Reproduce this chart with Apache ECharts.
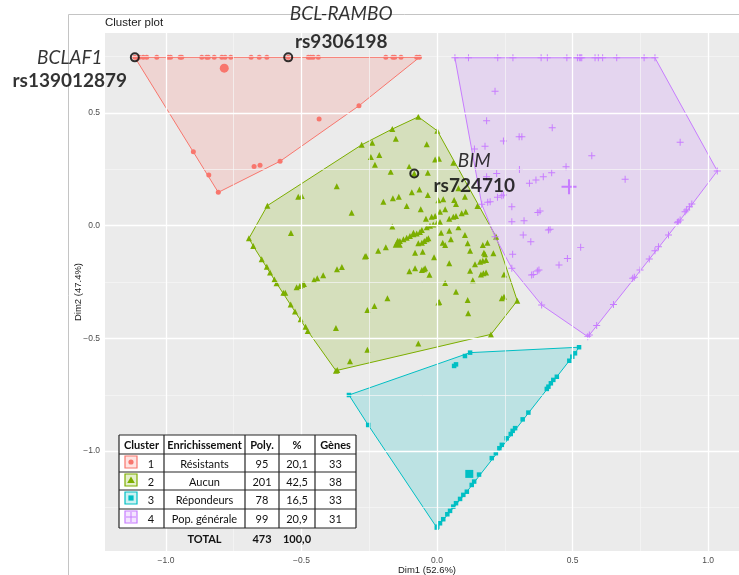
<!DOCTYPE html>
<html><head><meta charset="utf-8">
<script src="https://cdn.jsdelivr.net/npm/echarts@6/dist/echarts.min.js"></script>
<style>html,body{margin:0;padding:0;background:#fff}#c{width:739px;height:575px}</style>
</head><body><div id="c"></div>
<script>
// ---------- DATA ----------
const xTicks = [-1, -0.5, 0, 0.5, 1];
const yTicks = [-1, -0.5, 0, 0.5];
const xMinor = [-0.75, -0.25, 0.25, 0.75];
const yMinor = [-1.25, -0.75, -0.25, 0.25, 0.75];

const clusterIds = ['1', '2', '3', '4'];
const enrichment = ['Résistants', 'Aucun', 'Répondeurs', 'Pop. générale'];
const polyCount = ['95', '201', '78', '99'];
const polyPct = ['20,1', '42,5', '16,5', '20,9'];
const geneCount = ['33', '38', '33', '31'];
const tableHeader = ['Cluster', 'Enrichissement', 'Poly.', '%', 'Gènes'];
const totalRow = ['TOTAL', '473', '100,0'];

const resistants = [
[-1.115,0.747],[-1.099,0.747],[-1.084,0.747],[-1.071,0.747],[-1.034,0.747],[-0.992,0.747],[-0.983,0.747],[-0.948,0.747],[-0.942,0.747],[-0.868,0.747],
[-0.850,0.747],[-0.844,0.747],[-0.822,0.747],[-0.794,0.747],[-0.782,0.747],[-0.761,0.747],[-0.686,0.747],[-0.656,0.747],[-0.628,0.747],[-0.549,0.747],
[-0.475,0.747],[-0.466,0.747],[-0.457,0.747],[-0.438,0.747],[-0.189,0.747],[-0.163,0.747],[-0.156,0.747],[-0.133,0.747],[-0.075,0.747],[-0.065,0.747],
[-0.288,0.532],[-0.435,0.473],[-0.579,0.286],[-0.653,0.268],[-0.675,0.263],[-0.899,0.328],[-0.842,0.225],[-0.807,0.148]
];
const resistantsCenter = [-0.785, 0.699];

const aucun = [
[-0.165,0.429],[-0.278,0.359],[-0.626,0.089],[-0.694,-0.056],[-0.373,-0.643],[-0.239,0.368],[-0.152,0.386],[-0.244,0.305],[-0.213,0.314],[-0.229,0.271],
[-0.171,0.239],[-0.370,0.175],[-0.512,0.129],[-0.499,0.132],[-0.198,0.106],[-0.163,0.122],[-0.141,0.129],[-0.315,0.058],[-0.165,-0.003],[-0.539,-0.032],
[-0.189,-0.096],[-0.217,-0.111],[-0.266,-0.137],[-0.262,-0.134],[-0.678,-0.090],[-0.647,-0.149],[-0.628,-0.182],[-0.616,-0.207],[-0.600,-0.238],[-0.592,-0.255],
[-0.567,-0.297],[-0.560,-0.297],[-0.540,-0.350],[-0.524,-0.381],[-0.503,-0.415],[-0.485,-0.448],[-0.477,-0.467],[-0.368,-0.640],[-0.518,-0.273],[-0.506,-0.267],
[-0.497,-0.262],[-0.491,-0.259],[-0.454,-0.241],[-0.442,-0.233],[-0.420,-0.220],[-0.369,-0.193],[-0.351,-0.183],[-0.183,-0.322],[-0.231,-0.356],[-0.257,-0.374],
[-0.373,-0.454],[-0.257,-0.550],[-0.321,-0.601],[-0.069,0.483],[0.001,0.421],[0.296,-0.333],[0.199,-0.482],[-0.038,0.361],[-0.007,0.294],[0.007,0.297],
[0.060,0.279],[-0.103,0.262],[-0.034,0.235],[-0.093,0.149],[-0.065,0.161],[-0.034,0.136],[0.005,0.113],[0.023,0.118],[0.063,0.114],[0.070,0.096],
[0.079,0.166],[0.103,0.129],[0.149,0.087],[-0.112,0.087],[-0.060,0.073],[0.011,0.062],[0.030,0.073],[0.070,0.043],[0.091,0.055],[0.106,0.062],
[-0.041,0.031],[-0.020,0.040],[-0.007,0.043],[0.045,0.031],[0.060,0.040],[-0.087,-0.031],[-0.056,-0.019],[-0.038,-0.007],[-0.026,0.000],[-0.014,0.006],
[-0.001,0.011],[0.011,0.016],[0.015,-0.031],[0.045,-0.022],[0.079,-0.007],[0.103,-0.041],[-0.149,-0.078],[-0.137,-0.068],[-0.124,-0.060],[-0.112,-0.053],
[-0.100,-0.046],[-0.087,-0.038],[-0.075,-0.034],[-0.063,-0.028],[-0.069,-0.078],[-0.056,-0.075],[-0.047,-0.068],[-0.038,-0.060],[-0.032,-0.056],[0.021,-0.075],
[0.030,-0.086],[0.051,-0.060],[0.113,-0.078],[-0.081,-0.120],[-0.053,-0.115],[-0.011,-0.140],[0.045,-0.167],[0.122,-0.111],[0.169,-0.086],[0.186,-0.075],
[0.173,-0.120],[0.177,-0.127],[0.208,-0.122],[0.218,-0.049],[0.159,-0.160],[0.169,-0.155],[0.181,-0.152],[0.140,-0.171],[-0.102,-0.202],[-0.081,-0.189],
[-0.056,-0.196],[-0.048,-0.193],[-0.044,-0.189],[-0.028,-0.217],[0.122,-0.200],[0.162,-0.216],[0.171,-0.211],[0.181,-0.207],[0.247,-0.216],[0.030,-0.254],
[0.132,-0.242],[0.070,-0.293],[0.239,-0.322],[0.247,-0.315],[0.005,-0.341],[0.008,-0.338],[0.113,-0.329],[0.115,-0.388],[-0.069,-0.522],[-0.084,0.232]
];
const aucunCenter = [-0.145, -0.076];

const repondeurs = [
[0.524,-0.539],[0.122,-0.563],[0.103,-0.578],[-0.325,-0.751],[-0.254,-0.884],[-0.001,-1.339],[0.063,-0.622],[0.070,-0.615],[0.155,-1.104],
[0.509,-0.566],[0.499,-0.581],[0.488,-0.599],[0.442,-0.670],[0.429,-0.684],[0.420,-0.699],[0.411,-0.714],[0.405,-0.724],[0.337,-0.829],[0.316,-0.859],
[0.288,-0.898],[0.279,-0.910],[0.272,-0.924],[0.257,-0.943],[0.239,-0.972],[0.230,-0.987],[0.217,-1.009],[0.202,-1.031],[0.137,-1.135],[0.128,-1.150],
[0.110,-1.180],[0.097,-1.194],[0.085,-1.212],[0.070,-1.231],[0.060,-1.246],[0.048,-1.265],[0.038,-1.280],[0.023,-1.302],[0.011,-1.320],[0.001,-1.335]
];
const repondeursCenter = [0.119, -1.101];

const popGenerale = [
[0.066,0.745],[0.116,0.745],[0.224,0.745],[0.280,0.745],[0.384,0.745],[0.407,0.745],[0.479,0.745],[0.518,0.745],[0.525,0.745],[0.530,0.745],
[0.534,0.745],[0.583,0.745],[0.595,0.745],[0.611,0.745],[0.663,0.745],[0.764,0.745],[0.804,0.745],
[0.214,0.597],[0.183,0.466],[0.425,0.435],[0.245,0.376],[0.303,0.395],[0.313,0.395],[0.138,0.340],[0.177,0.353],[0.571,0.310],[0.476,0.262],
[0.304,0.250],[0.897,0.370],[0.220,0.232],[0.183,0.217],[0.423,0.235],[0.392,0.217],[0.365,0.203],[0.341,0.188],[0.694,0.206],[0.245,0.136],
[0.239,0.133],[0.223,0.126],[0.196,0.106],[0.187,0.104],[0.165,0.095],[0.276,0.084],[0.380,0.065],[0.372,0.059],[0.276,0.018],[0.321,0.022],
[0.411,-0.019],[0.417,-0.016],[0.214,-0.049],[0.318,-0.041],[0.346,-0.071],[0.279,-0.127],[0.530,-0.096],[0.481,-0.145],[0.450,-0.174],[0.376,-0.196],
[0.370,-0.201],[0.355,-0.216],[0.349,-0.219],[0.276,-0.189],[0.386,-0.352],[0.556,-0.492],
[1.034,0.243],[0.940,0.096],[0.931,0.084],[0.921,0.070],[0.915,0.062],[0.897,0.025],[0.890,0.018],[0.887,0.013],[0.854,-0.041],[0.817,-0.093],
[0.804,-0.111],[0.783,-0.148],[0.749,-0.196],[0.728,-0.229],[0.722,-0.233],[0.651,-0.349],[0.589,-0.443],[0.562,-0.485]
];
const popGeneraleCenter = [0.487, 0.173];

const snpGenes = ['BCLAF1', 'BCL-RAMBO', 'BIM'];
const snpIds = ['rs139012879', 'rs9306198', 'rs724710'];
const snpDim1 = [-1.115, -0.549, -0.084];
const snpDim2 = [0.747, 0.747, 0.232];

// ---------- STYLE ----------
const colors = ['#F8766D', '#7CAE00', '#00BFC4', '#C77CFF'];
const fills = ['rgba(248,118,109,0.2)', 'rgba(124,174,0,0.2)', 'rgba(0,191,196,0.2)', 'rgba(199,124,255,0.2)'];
const plusPath = 'path://M4.3,0H5.7V4.3H10V5.7H5.7V10H4.3V5.7H0V4.3H4.3Z';
const FONT = 'Liberation Sans';
const TFONT = 'Lato';

function hull(points) {
  const p = points.slice().sort((a, b) => a[0] - b[0] || a[1] - b[1]);
  const cross = (o, a, b) => (a[0] - o[0]) * (b[1] - o[1]) - (a[1] - o[1]) * (b[0] - o[0]);
  const lower = [], upper = [];
  for (const pt of p) { while (lower.length >= 2 && cross(lower[lower.length - 2], lower[lower.length - 1], pt) <= 0) lower.pop(); lower.push(pt); }
  for (let i = p.length - 1; i >= 0; i--) { const pt = p[i]; while (upper.length >= 2 && cross(upper[upper.length - 2], upper[upper.length - 1], pt) <= 0) upper.pop(); upper.push(pt); }
  upper.pop(); lower.pop();
  return lower.concat(upper);
}

const clusters = [
  { pts: resistants, center: resistantsCenter, symbol: 'circle', size: 5, csize: 9 },
  { pts: aucun, center: aucunCenter, symbol: 'triangle', size: 6, csize: 10 },
  { pts: repondeurs, center: repondeursCenter, symbol: 'rect', size: 4.5, csize: 8 },
  { pts: popGenerale, center: popGeneraleCenter, symbol: plusPath, size: 7, csize: 15 }
];

const fmt = v => (v < 0 ? '\u2212' : '') + Math.abs(v).toFixed(1);

const series = [];
// panel grid lines, placed on the axes' own scales
const gridLineSeries = (vals, dim, color, width) => ({
  type: 'line', z: 1, silent: true, animation: false, showSymbol: false, symbol: 'none',
  data: [], lineStyle: { opacity: 0 },
  markLine: {
    silent: true, symbol: ['none', 'none'], label: { show: false }, animation: false,
    lineStyle: { color: color, width: width, type: 'solid', opacity: 1 },
    emphasis: { disabled: true },
    data: vals.map(v => (dim === 'x' ? { xAxis: v } : { yAxis: v }))
  }
});
series.push(gridLineSeries(xMinor, 'x', '#F6F6F6', 0.7));
series.push(gridLineSeries(yMinor, 'y', '#F6F6F6', 0.7));
series.push(gridLineSeries(xTicks, 'x', '#FFFFFF', 1.3));
series.push(gridLineSeries(yTicks, 'y', '#FFFFFF', 1.3));

clusters.forEach((c, i) => {
  const h = hull(c.pts.concat([c.center]));
  series.push({
    type: 'custom', z: 2, silent: true, animation: false, clip: true,
    data: h,
    renderItem: function (params, api) {
      if (params.dataIndex !== 0) return null;
      return {
        type: 'polygon',
        shape: { points: h.map(p => api.coord(p)) },
        style: { fill: fills[i], stroke: colors[i], lineWidth: 1 }
      };
    }
  });
});
clusters.forEach((c, i) => {
  series.push({
    type: 'scatter', z: 3, silent: true, animation: false,
    symbol: c.symbol, symbolSize: c.size,
    itemStyle: { color: colors[i], opacity: 1 },
    data: c.pts.concat([{ value: c.center, symbolSize: c.csize }])
  });
});

const labelOffsets = [[-65, 12], [53, -29], [60, 0]];
const labelLH = [23, 28, 25];
series.push({
  type: 'scatter', z: 5, silent: true, animation: false,
  symbol: 'circle', symbolSize: 8,
  itemStyle: { color: 'rgba(0,0,0,0)', borderColor: '#000', borderWidth: 2 },
  data: snpDim1.map((x, i) => ({
    value: [x, snpDim2[i]],
    label: {
      show: true, position: 'inside', offset: labelOffsets[i], align: 'center', verticalAlign: 'middle',
      formatter: '{g|' + snpGenes[i] + '}\n{s|' + snpIds[i] + '}',
      rich: {
        g: { fontFamily: TFONT, fontStyle: 'italic', fontSize: 19, color: '#000', lineHeight: labelLH[i], align: 'center' },
        s: { fontFamily: TFONT, fontWeight: 'bold', fontSize: 19, color: '#000', lineHeight: labelLH[i], align: 'center' }
      }
    }
  }))
});

// ---------- TABLE (graphic) ----------
const colX = [119, 164, 245, 279, 315, 356];
const rowY = [435, 454, 472, 490, 509, 528];
const tbl = [];
tbl.push({ type: 'rect', shape: { x: colX[0], y: rowY[0], width: colX[5] - colX[0], height: rowY[5] - rowY[0] }, style: { fill: '#fff' } });
colX.forEach(x => tbl.push({ type: 'line', shape: { x1: x, y1: rowY[0], x2: x, y2: rowY[5] }, style: { stroke: '#262626', lineWidth: 1.2 } }));
rowY.forEach(y => tbl.push({ type: 'line', shape: { x1: colX[0], y1: y, x2: colX[5], y2: y }, style: { stroke: '#262626', lineWidth: 1.2 } }));
const cellText = (txt, col, ymid, bold) => ({
  type: 'text', x: (colX[col] + colX[col + 1]) / 2, y: ymid,
  style: { text: txt, fontFamily: TFONT, fontSize: 11, fontWeight: bold ? 'bold' : 'normal', fill: '#111', align: 'center', verticalAlign: 'middle' }
});
tableHeader.forEach((h, c) => tbl.push(cellText(h, c, (rowY[0] + rowY[1]) / 2 + 1, true)));
clusterIds.forEach((id, r) => {
  const ym = (rowY[r + 1] + rowY[r + 2]) / 2 + 1;
  const top = rowY[r + 1] + 2;
  tbl.push({ type: 'rect', shape: { x: 125, y: top, width: 12, height: 12 }, style: { fill: fills[r], stroke: colors[r], lineWidth: 1.2 } });
  const cx = 131, cy = top + 6;
  if (r === 0) tbl.push({ type: 'circle', shape: { cx: cx, cy: cy, r: 2.6 }, style: { fill: colors[r] } });
  if (r === 1) tbl.push({ type: 'polygon', shape: { points: [[cx, cy - 3.5], [cx + 3.8, cy + 3], [cx - 3.8, cy + 3]] }, style: { fill: colors[r] } });
  if (r === 2) tbl.push({ type: 'rect', shape: { x: cx - 2.6, y: cy - 2.6, width: 5.2, height: 5.2 }, style: { fill: colors[r] } });
  if (r === 3) {
    tbl.push({ type: 'line', shape: { x1: cx - 5, y1: cy, x2: cx + 5, y2: cy }, style: { stroke: colors[r], lineWidth: 1 } });
    tbl.push({ type: 'line', shape: { x1: cx, y1: cy - 5, x2: cx, y2: cy + 5 }, style: { stroke: colors[r], lineWidth: 1 } });
  }
  tbl.push({ type: 'text', x: 151, y: ym, style: { text: id, fontFamily: TFONT, fontSize: 11, fill: '#111', align: 'center', verticalAlign: 'middle' } });
  tbl.push(cellText(enrichment[r], 1, ym, false));
  tbl.push(cellText(polyCount[r], 2, ym, false));
  tbl.push(cellText(polyPct[r], 3, ym, false));
  tbl.push(cellText(geneCount[r], 4, ym, false));
});
totalRow.forEach((t, k) => tbl.push(cellText(t, k + 1, 539, true)));
tbl.forEach(e => { e.z = 100; e.silent = true; });

const chart = echarts.init(document.getElementById('c'), null, { renderer: 'canvas' });
chart.setOption({
  animation: false,
  backgroundColor: '#fff',
  textStyle: { fontFamily: FONT },
  title: { text: 'Cluster plot', left: 105, top: 17, padding: 0, textStyle: { fontFamily: FONT, fontSize: 11.5, fontWeight: 'normal', color: '#1a1a1a' } },
  grid: { left: 105, width: 644, top: 33, bottom: 24, show: true, backgroundColor: '#EBEBEB', borderWidth: 0, containLabel: false, outerBoundsMode: 'none' },
  xAxis: {
    type: 'value', min: -1.225, max: 1.151,
    splitLine: { show: false }, axisLine: { show: false },
    axisTick: { show: true, customValues: xTicks, length: 3, lineStyle: { color: '#333', width: 1 } },
    axisLabel: { customValues: xTicks, formatter: fmt, color: '#4D4D4D', fontSize: 8.5, margin: 5, fontFamily: FONT },
    name: 'Dim1 (52.6%)', nameLocation: 'middle', nameGap: 14, nameMoveOverlap: false,
    nameTextStyle: { fontSize: 9.5, color: '#1a1a1a', fontFamily: FONT }
  },
  yAxis: {
    type: 'value', min: -1.443, max: 0.855,
    splitLine: { show: false }, axisLine: { show: false },
    axisTick: { show: true, customValues: yTicks, length: 3, lineStyle: { color: '#333', width: 1 } },
    axisLabel: { customValues: yTicks, formatter: fmt, color: '#4D4D4D', fontSize: 8.5, margin: 5, fontFamily: FONT },
    name: 'Dim2 (47.4%)', nameLocation: 'middle', nameGap: 22, nameRotate: 90, nameMoveOverlap: false,
    nameTextStyle: { fontSize: 9.5, color: '#1a1a1a', fontFamily: FONT }
  },
  graphic: [
    { type: 'rect', z: -1, silent: true, shape: { x: 68.5, y: 14.5, width: 800, height: 700 }, style: { fill: 'none', stroke: '#C4C4C4', lineWidth: 1 } }
  ].concat(tbl),
  series: series
});
</script>
</body></html>
